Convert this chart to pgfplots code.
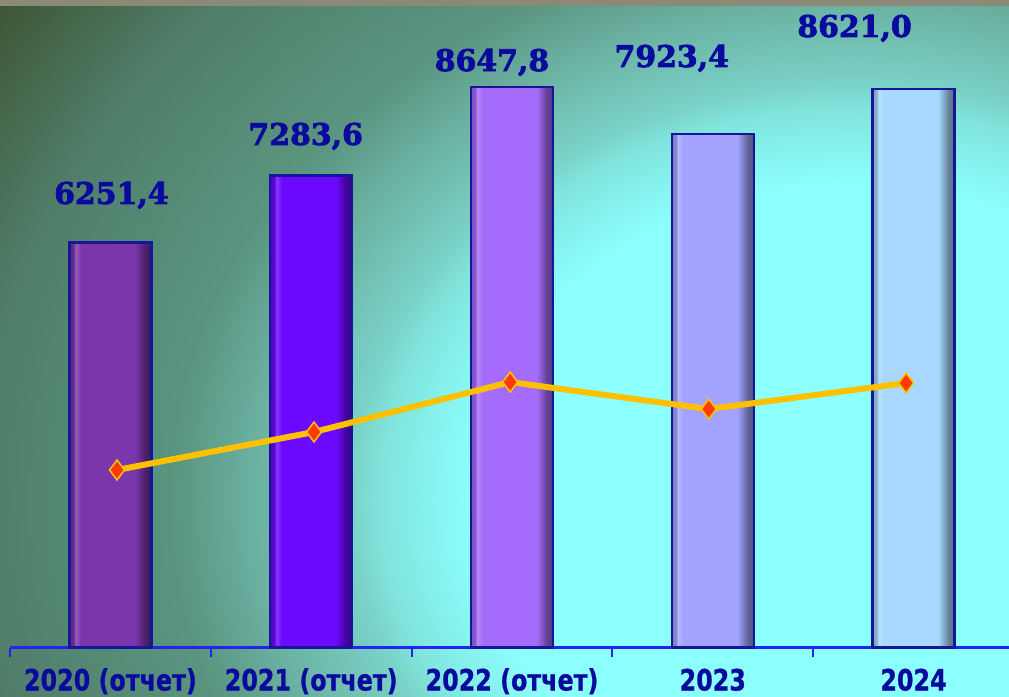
\documentclass[border=0pt]{standalone}
\usepackage{fontspec}
\setmainfont{DejaVu Sans}
\newfontfamily\catfont{DejaVu Sans Bold}[FakeStretch=0.81,FakeBold=0.8]
\newfontfamily\valfont{DejaVu Serif Bold}[FakeBold=2.5]
\usepackage{pgfplots}
\pgfplotsset{compat=1.18}

\definecolor{lbl}{HTML}{0A0A9E}
\definecolor{axisblue}{HTML}{2424F0}
\definecolor{barline}{HTML}{16169A}
\definecolor{lineor}{HTML}{FFC000}
\definecolor{markred}{HTML}{FF3C00}
\definecolor{topstrip}{HTML}{8A8A76}
% bar colours
\definecolor{cA}{HTML}{7B36AD}
\definecolor{cB}{HTML}{6B0AFF}
\definecolor{cC}{HTML}{A56CFC}
\definecolor{cD}{HTML}{A3A3FF}
\definecolor{cE}{HTML}{A8D8FF}
% background
\definecolor{bgA}{HTML}{8CFFFF}
\definecolor{bgB}{HTML}{80E4DC}
\definecolor{bgC}{HTML}{7AD2C8}
\definecolor{bgD}{HTML}{6AB0A0}
\definecolor{bgE}{HTML}{5A9580}
\definecolor{bgF}{HTML}{507E6A}
\definecolor{bgG}{HTML}{3D5533}
\definecolor{bgH}{HTML}{36492C}

\pgfdeclareradialshading{bgrad}{\pgfpointorigin}{color(0bp)=(bgA); color(7.9bp)=(bgA);
  color(9.8bp)=(bgB); color(10.4bp)=(bgC); color(12.5bp)=(bgD); color(14.1bp)=(bgE);
  color(18.1bp)=(bgF); color(21.7bp)=(bgG); color(25bp)=(bgH); color(50bp)=(bgH)}

\newcommand\barshade[2]{\pgfdeclarehorizontalshading{#1}{100bp}{%
  color(0bp)=(#2!75!black); color(25bp)=(#2!75!black); color(27.5bp)=(#2!82!black);
  color(28.8bp)=(#2!80!white); color(32bp)=(#2); color(65bp)=(#2);
  color(71bp)=(#2!62!black); color(75bp)=(#2!50!black); color(100bp)=(#2!50!black)}}
\barshade{shA}{cA}
\barshade{shB}{cB}
\barshade{shC}{cC}
\barshade{shD}{cD}
\barshade{shE}{cE}

\begin{document}
\begin{tikzpicture}
  \useasboundingbox (0,0) rectangle (1009bp,697bp);
  \begin{scope}
    \clip (0,0) rectangle (1009bp,697bp);
    \shade[shading=bgrad] (-350bp,-803bp) rectangle (2050bp,1197bp);
    \fill[topstrip] (0,691bp) rectangle (1009bp,697bp);
  \end{scope}
  \begin{axis}[at={(10bp,49.5bp)},anchor=south west,
    scale only axis,width=1004bp,height=647.5bp,
    xmin=-0.5,xmax=4.5,ymin=0,ymax=9991,
    clip=false,
    axis x line*=bottom,axis y line=none,
    axis line style={draw=axisblue,line width=2bp},
    xtick={0,1,2,3,4},
    xticklabels={2020 (отчет),2021 (отчет),2022 (отчет),2023,2024},
    minor xtick={-0.5,0.5,1.5,2.5,3.5,4.5},
    major tick length=0pt,minor tick length=9bp,
    tick align=outside,
    minor tick style={draw=axisblue,line width=2bp},
    xticklabel style={font=\catfont\fontsize{29.5}{31}\selectfont,text=lbl,
      anchor=base,yshift=-43bp},
    ytick=\empty,
    nodes near coords,point meta=explicit symbolic,
    every node near coord/.append style={font=\valfont\fontsize{30}{31}\selectfont,
      text=lbl,anchor=base}]
    \addplot[ybar,bar width=82bp,bar shift=0pt,draw=barline,line width=2.5bp,
      shade,shading=shA,
      nodes near coords style={xshift=1bp,yshift=38.4bp}]
      coordinates {(0,6251.4) [6251,4]};
    \addplot[ybar,bar width=82bp,bar shift=0pt,draw=barline,line width=2.5bp,
      shade,shading=shB,
      nodes near coords style={xshift=-5.5bp,yshift=30.5bp}]
      coordinates {(1,7283.6) [7283,6]};
    \addplot[ybar,bar width=82bp,bar shift=0pt,draw=barline,line width=2.5bp,
      shade,shading=shC,
      nodes near coords style={xshift=-20bp,yshift=16bp}]
      coordinates {(2,8647.8) [8647,8]};
    \addplot[ybar,bar width=82bp,bar shift=0pt,draw=barline,line width=2.5bp,
      shade,shading=shD,
      nodes near coords style={xshift=-41bp,yshift=67bp}]
      coordinates {(3,7923.4) [7923,4]};
    \addplot[ybar,bar width=82bp,bar shift=0pt,draw=barline,line width=2.5bp,
      shade,shading=shE,
      nodes near coords style={xshift=-59bp,yshift=51.8bp}]
      coordinates {(4,8621.0) [8621,0]};
    % trend line
    \addplot[sharp plot,nodes near coords=,color=lineor,line width=6bp,
      mark=diamond*,mark size=10pt,
      mark options={fill=markred,draw=lineor,line width=1.5bp}]
      coordinates {(0.033,2739) (1.014,3325) (1.991,4096) (2.98,3679) (3.963,4081)};
  \end{axis}
\end{tikzpicture}
\end{document}
